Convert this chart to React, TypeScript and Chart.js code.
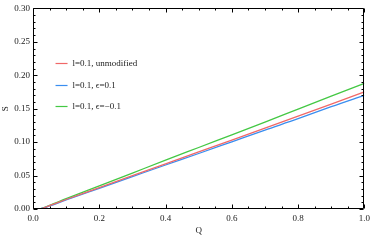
import React, { useEffect, useRef } from "react";
import { Chart, registerables } from "chart.js";
Chart.register(...registerables);

const Q = [0, 0.02, 0.05, 0.1, 0.2, 0.3, 0.4, 0.5, 0.6, 0.7, 0.8, 0.9, 1.0];
const S_unmodified = [0, 0.0003, 0.005, 0.0142, 0.032, 0.0498, 0.0676, 0.0854, 0.103, 0.121, 0.139, 0.157, 0.175];
const S_epsPos = [0, 0.0003, 0.0045, 0.0136, 0.031, 0.0484, 0.0658, 0.083, 0.1005, 0.118, 0.135, 0.153, 0.17];
const S_epsNeg = [0, 0.0003, 0.0055, 0.0154, 0.0346, 0.0538, 0.073, 0.092, 0.111, 0.13, 0.1495, 0.1688, 0.188];
const seriesLabels = ["l=0.1, unmodified", "l=0.1, \u03F5=0.1", "l=0.1, \u03F5=\u22120.1"];
const seriesColors = ["#f06868", "#3a8ef0", "#44c844"];
const xTickStep = 0.2;
const xMinorStep = 0.05;
const yTickStep = 0.05;
const yMinorStep = 0.01;

const FONT = "'Times New Roman', 'Liberation Serif', 'DejaVu Serif', serif";

const framePlugin = {
  id: "frameTicks",
  afterDatasetsDraw(chart: any) {
    const { ctx, chartArea } = chart;
    const xs = chart.scales.x;
    const ys = chart.scales.y;
    ctx.save();
    ctx.strokeStyle = "#000";
    ctx.lineWidth = 1;
    const L = Math.round(chartArea.left) + 0.5;
    const R = Math.round(chartArea.right) - 0.5;
    const T = Math.round(chartArea.top) + 0.5;
    const B = Math.round(chartArea.bottom) - 0.5;
    ctx.beginPath();
    ctx.rect(L, T, R - L, B - T);
    ctx.stroke();
    ctx.beginPath();
    const nx = Math.round((xs.max - xs.min) / xMinorStep);
    for (let i = 0; i <= nx; i++) {
      const v = xs.min + i * xMinorStep;
      const major = Math.abs(v / xTickStep - Math.round(v / xTickStep)) < 1e-6;
      const len = major ? 4 : 2;
      const px = Math.round(xs.getPixelForValue(v)) + 0.5;
      ctx.moveTo(px, B);
      ctx.lineTo(px, B - len);
      ctx.moveTo(px, T);
      ctx.lineTo(px, T + len);
    }
    const ny = Math.round((ys.max - ys.min) / yMinorStep);
    for (let i = 0; i <= ny; i++) {
      const v = ys.min + i * yMinorStep;
      const major = Math.abs(v / yTickStep - Math.round(v / yTickStep)) < 1e-6;
      const len = major ? 4 : 2;
      const py = Math.round(ys.getPixelForValue(v)) + 0.5;
      ctx.moveTo(L, py);
      ctx.lineTo(L + len, py);
      ctx.moveTo(R, py);
      ctx.lineTo(R - len, py);
    }
    ctx.stroke();

    // legend
    const x0 = xs.getPixelForValue(0.068);
    const rows = [0.218, 0.186, 0.154];
    ctx.font = "9px " + FONT;
    ctx.textBaseline = "middle";
    ctx.textAlign = "left";
    chart.data.datasets.forEach((ds: any, i: number) => {
      const y = Math.round(ys.getPixelForValue(rows[i])) + 0.5;
      ctx.strokeStyle = ds.borderColor;
      ctx.lineWidth = 1.2;
      ctx.beginPath();
      ctx.moveTo(x0, y);
      ctx.lineTo(x0 + 12, y);
      ctx.stroke();
      ctx.fillStyle = "#222";
      ctx.fillText(ds.label, x0 + 17, y);
    });
    ctx.restore();
  },
};

export default function App() {
  const ref = useRef<HTMLCanvasElement>(null);
  useEffect(() => {
    if (!ref.current) return;
    const series = [S_unmodified, S_epsPos, S_epsNeg];
    const chart = new Chart(ref.current, {
      type: "line",
      data: {
        datasets: series.map((s, i) => ({
          label: seriesLabels[i],
          data: Q.map((q, j) => ({ x: q, y: s[j] })),
          borderColor: seriesColors[i],
          backgroundColor: seriesColors[i],
          borderWidth: 1.3,
          pointRadius: 0,
          cubicInterpolationMode: "monotone" as const,
          fill: false,
        })),
      },
      options: {
        animation: false,
        responsive: false,
        maintainAspectRatio: false,
        layout: { padding: { top: 3, right: 8, left: 0, bottom: 0 } },
        plugins: { legend: { display: false }, tooltip: { enabled: false } },
        scales: {
          x: {
            type: "linear",
            min: 0,
            max: 1,
            grid: { display: false, drawTicks: false },
            border: { display: false },
            ticks: {
              stepSize: xTickStep,
              padding: 4,
              color: "#222",
              font: { family: FONT, size: 9 },
              maxRotation: 0,
              callback: (v: any) => Number(v).toFixed(1),
            },
            title: { display: true, text: "Q", color: "#222", font: { family: FONT, size: 9 }, padding: { top: 0, bottom: 5 } },
            afterFit: (s: any) => { s.height = 32; },
          },
          y: {
            type: "linear",
            min: 0,
            max: 0.3,
            grid: { display: false, drawTicks: false },
            border: { display: false },
            ticks: {
              stepSize: yTickStep,
              padding: 3,
              color: "#222",
              font: { family: FONT, size: 9 },
              callback: (v: any) => Number(v).toFixed(2),
            },
            title: { display: true, text: "S", color: "#222", font: { family: FONT, size: 9 }, padding: { top: 0, bottom: 0 } },
            afterFit: (s: any) => { s.width = 33; },
          },
        },
      },
      plugins: [framePlugin],
    });
    return () => chart.destroy();
  }, []);
  return (
    <div style={{ position: "fixed", left: 0, top: 0, width: 374, height: 241, background: "#fff" }}>
      <canvas ref={ref} width={374} height={241} style={{ width: 374, height: 241, display: "block" }} />
    </div>
  );
}
